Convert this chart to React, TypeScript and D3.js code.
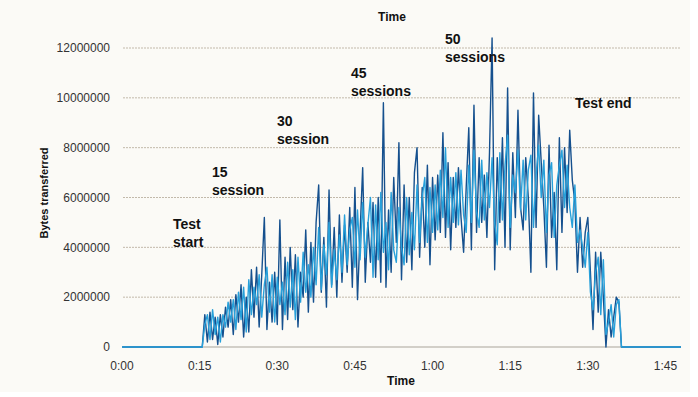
import React from "react";
import * as d3 from "d3";

const W = 698;
const H = 397;

// Time axis (minutes)
const xTicks = [0, 15, 30, 45, 60, 75, 90, 105];
const xTickLabels = ["0:00", "0:15", "0:30", "0:45", "1:00", "1:15", "1:30", "1:45"];
const yTicks = [0, 2000000, 4000000, 6000000, 8000000, 10000000, 12000000];

// samples every 0.5 minute from 16.0 to 96.0, values in millions of bytes
const startMin = 16;
const stepMin = 0.5;
const darkSeries = [
  1.3, 0.2, 1.4, 0.3, 1.2, 0.1, 1.3, 0.4, 1.6, 0.8,
  1.9, 0.5, 2.1, 1.0, 2.5, 0.4, 2.0, 0.6, 3.1, 1.2,
  3.2, 0.8, 2.9, 5.2, 0.7, 2.6, 1.0, 3.0, 0.9, 5.1,
  0.7, 3.6, 1.1, 4.0, 1.5, 3.7, 0.8, 3.0, 2.0, 4.7,
  1.4, 4.2, 1.8, 5.0, 6.5, 2.2, 4.4, 1.6, 6.3, 2.5,
  4.8, 2.0, 5.3, 2.6, 4.9, 3.0, 5.6, 2.4, 6.4, 1.9,
  4.6, 7.2, 2.6, 5.0, 3.4, 5.8, 2.8, 6.0, 2.6, 9.8,
  2.4, 5.5, 3.0, 6.8, 4.2, 8.2, 2.7, 6.5, 3.4, 6.0,
  3.1, 7.0, 8.0, 3.6, 6.4, 4.0, 7.3, 3.3, 6.8, 4.3,
  6.9, 4.6, 8.6, 4.4, 7.4, 3.9, 6.8, 4.8, 7.2, 5.2,
  3.8, 6.4, 8.8, 3.9, 9.7, 4.6, 7.6, 5.0, 6.9, 4.4,
  7.8, 12.4, 3.1, 7.6, 5.0, 8.4, 4.0, 10.4, 3.9, 7.8,
  5.2, 9.5, 5.6, 4.7, 7.6, 6.0, 3.0, 10.2, 4.8, 9.3,
  7.4, 5.6, 3.2, 8.1, 4.4, 6.2, 3.1, 8.4, 4.6, 8.0,
  5.4, 8.7, 6.7, 5.8, 3.0, 5.2, 3.2, 4.6, 5.2, 3.0,
  0.7, 3.8, 1.4, 3.8, 2.0, 0.0, 1.5, 0.4, 1.2, 2.0, 1.8,
];
const lightSeries = [
  0.9, 1.3, 0.3, 1.5, 0.5, 1.2, 0.2, 1.3, 0.8, 1.8,
  1.0, 1.9, 0.7, 2.2, 1.1, 2.4, 0.6, 2.7, 1.3, 2.4,
  1.7, 2.9, 1.2, 2.5, 3.2, 1.4, 2.9, 1.0, 2.8, 1.7,
  2.6, 1.3, 3.4, 1.6, 3.1, 1.1, 3.6, 1.8, 3.8, 2.2,
  3.3, 2.0, 4.0, 2.5, 4.8, 2.3, 4.1, 2.9, 5.0, 2.4,
  3.9, 2.7, 4.5, 3.0, 5.3, 3.3, 4.7, 5.2, 3.2, 5.5,
  3.5, 5.8, 3.6, 4.9, 6.0, 2.8, 5.7, 3.5, 6.2, 3.8,
  5.0, 3.1, 6.2, 3.9, 3.4, 5.6, 4.0, 3.3, 6.0, 3.7,
  5.4, 3.9, 6.5, 4.2, 6.0, 6.8, 4.2, 6.4, 4.6, 6.5,
  4.7, 7.1, 5.2, 8.0, 4.8, 6.8, 5.0, 7.0, 4.9, 7.1,
  5.3, 4.6, 7.3, 5.0, 7.9, 5.4, 4.8, 7.5, 5.1, 7.0,
  5.6, 7.6, 5.0, 4.1, 7.8, 5.1, 7.3, 8.5, 4.8, 6.9,
  6.2, 7.9, 5.5, 7.5, 5.1, 7.1, 7.7, 4.8, 6.9, 8.1,
  6.0, 7.5, 4.6, 6.9, 7.4, 4.4, 6.5, 7.3, 7.9, 5.6,
  7.3, 5.6, 4.8, 6.5, 4.2, 4.7, 4.0, 3.2, 4.6, 2.2,
  1.5, 3.0, 3.6, 1.3, 3.5, 0.5, 1.0, 1.7, 0.4, 1.7, 1.9,
];

const annotations = [
  { lines: ["Test", "start"], x: 173, y: 229 },
  { lines: ["15", "session"], x: 212, y: 177 },
  { lines: ["30", "session"], x: 277, y: 126 },
  { lines: ["45", "sessions"], x: 351, y: 78 },
  { lines: ["50", "sessions"], x: 445, y: 44 },
  { lines: ["Test end"], x: 575, y: 108 },
];

type P = { t: number; v: number };
function buildSeries(vals: number[]): P[] {
  const pts: P[] = [{ t: 0, v: 0 }, { t: startMin - stepMin, v: 0 }];
  vals.forEach((v, i) => pts.push({ t: startMin + i * stepMin, v: v * 1e6 }));
  pts.push({ t: startMin + vals.length * stepMin, v: 0 });
  pts.push({ t: 108, v: 0 });
  return pts;
}

export default function App() {
  const x = d3.scaleLinear().domain([0, 108]).range([122, 681]);
  const y = d3.scaleLinear().domain([0, 12000000]).range([347, 48]);
  const line = d3
    .line<P>()
    .x((d) => x(d.t))
    .y((d) => y(d.v));
  const dark = buildSeries(darkSeries);
  const light = buildSeries(lightSeries);
  const font = "Liberation Sans, Arial, sans-serif";

  return (
    <svg
      width={W}
      height={H}
      style={{ position: "absolute", left: 0, top: 0, display: "block" }}
      fontFamily={font}
    >
      <rect x={0} y={0} width={W} height={H} fill="#ffffff" />
      <rect x={0} y={0} width={690} height={392} fill="#fbfaf6" />
      {yTicks.map((t) => (
        <g key={t}>
          <line
            x1={123}
            x2={681}
            y1={y(t)}
            y2={y(t)}
            stroke={t === 0 ? "#a9a49a" : "#c2b9aa"}
            strokeWidth={1}
            strokeDasharray={t === 0 ? undefined : "2,1"}
          />
          <text
            x={110}
            y={y(t)}
            dy="0.35em"
            textAnchor="end"
            fontSize={12}
            fill="#333"
          >
            {t}
          </text>
        </g>
      ))}
      {xTicks.map((t, i) => (
        <text
          key={t}
          x={x(t)}
          y={370}
          textAnchor="middle"
          fontSize={12}
          fill="#333"
        >
          {xTickLabels[i]}
        </text>
      ))}
      <path d={line(dark) || ""} fill="none" stroke="#15508e" strokeWidth={1.4} strokeLinejoin="round" />
      <path d={line(light) || ""} fill="none" stroke="#27a0da" strokeWidth={1.4} strokeLinejoin="round" />
      <text x={401} y={385} textAnchor="middle" fontSize={12} fontWeight="bold" fill="#111">
        Time
      </text>
      <text x={392} y={21} textAnchor="middle" fontSize={12} fontWeight="bold" fill="#111">
        Time
      </text>
      <text
        transform="translate(48,193) rotate(-90)"
        textAnchor="middle"
        fontSize={11}
        fontWeight="bold"
        fill="#111"
      >
        Bytes transferred
      </text>
      {annotations.map((a, i) => (
        <text key={i} x={a.x} y={a.y} fontSize={14} fontWeight="bold" fill="#111">
          {a.lines.map((l, j) => (
            <tspan key={j} x={a.x} dy={j === 0 ? 0 : 18}>
              {l}
            </tspan>
          ))}
        </text>
      ))}
    </svg>
  );
}
